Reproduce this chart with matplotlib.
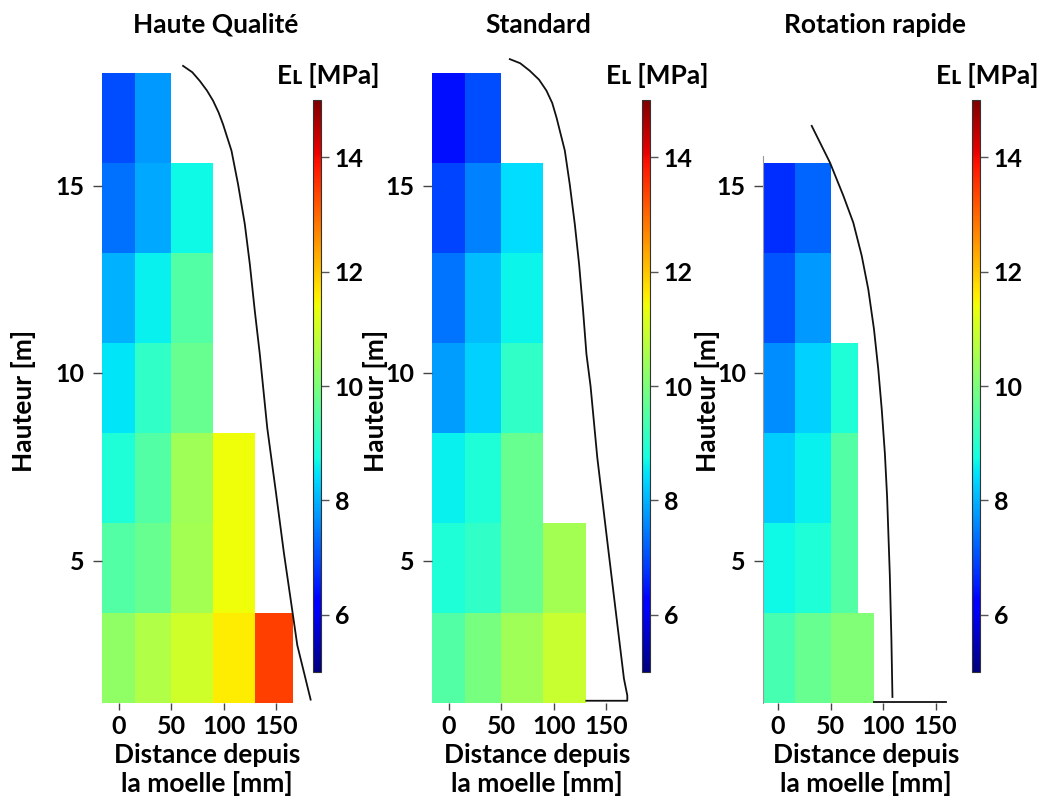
import matplotlib
matplotlib.use("Agg")
import matplotlib.pyplot as plt
import numpy as np
from matplotlib.colors import Normalize
from matplotlib.cm import ScalarMappable

plt.rcParams['font.family'] = ['Lato', 'DejaVu Sans']
plt.rcParams['font.weight'] = 'bold'

# ---------------- data ----------------
titles = ["Haute Qualité", "Standard", "Rotation rapide"]
row_edges_y = [1.2, 3.6, 6.0, 8.4, 10.8, 13.2, 15.6, 18.0]

# Haute Qualité: per row (bottom -> top) column edges [mm] and E_L values [MPa]
hq_x = [[-16, 15, 50, 90, 130, 166],
        [-16, 15, 50, 90, 130],
        [-16, 15, 50, 90, 130],
        [-16, 15, 50, 90],
        [-16, 15, 50, 90],
        [-16, 15, 50, 90],
        [-16, 15, 50]]
hq_v = [[10.25, 10.65, 11.0, 11.6, 13.4],
        [9.5, 9.75, 10.5, 11.4],
        [8.9, 9.5, 10.45, 11.4],
        [8.5, 9.1, 9.75],
        [8.0, 8.6, 9.5],
        [7.35, 7.9, 8.7],
        [7.0, 7.75]]

# Standard
st_x = [[-16, 15, 50, 90, 131],
        [-16, 15, 50, 90, 131],
        [-16, 15, 50, 90],
        [-16, 15, 50, 90],
        [-16, 15, 50, 90],
        [-16, 15, 50, 90],
        [-16, 15, 50]]
st_v = [[9.5, 9.95, 10.45, 10.9],
        [8.9, 9.1, 9.75, 10.5],
        [8.6, 8.9, 9.75],
        [7.8, 8.3, 9.1],
        [7.4, 8.1, 8.65],
        [6.95, 7.5, 8.43],
        [6.4, 7.0]]

# Rotation rapide
rr_x = [[-14, 16, 50, 91],
        [-14, 16, 50, 76],
        [-14, 16, 50, 76],
        [-14, 16, 50, 76],
        [-14, 16, 50],
        [-14, 16, 50]]
rr_v = [[9.35, 9.75, 10.05],
        [8.7, 8.9, 9.5],
        [8.25, 8.6, 9.5],
        [7.65, 8.3, 8.9],
        [7.1, 7.75],
        [6.7, 7.25]]

# stem profile curves (radius [mm], height [m])
hq_prof_r = [61.2, 70.0, 77.1, 84.0, 89.8, 95.0, 99.3, 107.3, 113.6, 120.0, 124.8, 129.5, 134.3,
             141.4, 149.5, 157.3, 164.0, 170.0, 176.5, 182.7]
hq_prof_h = [18.19, 18.02, 17.79, 17.53, 17.26, 16.95, 16.63, 15.93, 15.03, 13.97, 12.90, 11.66, 10.50,
             8.53, 6.85, 5.19, 3.90, 2.74, 2.00, 1.29]
st_prof_r = [58.1, 68.0, 77.1, 86.0, 93.0, 98.5, 102.6, 110.5, 115.2, 120.0, 124.1, 127.9, 131.1,
             135.0, 141.4, 151.0, 160.5, 166.8, 170.0, 170.0, 131.0]
st_prof_h = [18.37, 18.26, 18.06, 17.82, 17.53, 17.20, 16.81, 15.93, 15.03, 13.97, 12.90, 11.66, 10.50,
             9.65, 7.75, 5.50, 3.30, 1.85, 1.40, 1.26, 1.26]
rr_prof_r = [32.1, 49.5, 62.2, 71.7, 79.7, 86.0, 91.4, 95.5, 98.8, 101.8,
             103.9, 106.5, 108.0, 109.0]
rr_prof_h = [16.59, 15.61, 14.73, 14.01, 13.13, 12.23, 11.17, 10.10, 9.03, 7.85,
             6.70, 4.61, 2.90, 1.36]
rr_base_r = [91, 160]
rr_base_h = [1.22, 1.22]
rr_edge_r = [-14, -14]
rr_edge_h = [1.2, 15.8]

cbar_ticks = [6, 8, 10, 12, 14]
x_ticks = [0, 50, 100, 150]
y_ticks = [5, 10, 15]

# ---------------- layout ----------------
W, H = 1042, 800
fig = plt.figure(figsize=(W / 100, H / 100), dpi=100)

def px_axes(x0, y0, x1, y1):
    return fig.add_axes([x0 / W, 1 - y1 / H, (x1 - x0) / W, (y1 - y0) / H])

cmap = plt.get_cmap('jet')
norm = Normalize(5, 15)
ylim = (1.2, 18.5)
pxmm = 1.05
ytop = 703 - (ylim[1] - ylim[0]) * 37.5

LAB = 19
TICK = 18

panels = [
    dict(xs=hq_x, vs=hq_v, x0px=102, xlim=(-16, 184), cb=313, xlab=207,
         lines=[(hq_prof_r, hq_prof_h, '#111111', 1.3)]),
    dict(xs=st_x, vs=st_v, x0px=432, xlim=(-16, 172), cb=642, xlab=537,
         lines=[(st_prof_r, st_prof_h, '#111111', 1.3)]),
    dict(xs=rr_x, vs=rr_v, x0px=763.3, xlim=(-14, 162), cb=972, xlab=866,
         lines=[(rr_prof_r, rr_prof_h, '#111111', 1.3),
                (rr_base_r, rr_base_h, '#111111', 1.3),
                (rr_edge_r, rr_edge_h, '#999999', 0.8)]),
]

for i, p in enumerate(panels):
    x1px = p['x0px'] + (p['xlim'][1] - p['xlim'][0]) * pxmm
    ax = px_axes(p['x0px'], ytop, x1px, 703)
    for r, (xe, vals) in enumerate(zip(p['xs'], p['vs'])):
        ax.pcolormesh(xe, row_edges_y[r:r + 2], np.array([vals]), cmap=cmap, norm=norm,
                      edgecolor='none', antialiased=False)
    for (lx, ly, c, lw) in p['lines']:
        ax.plot(lx, ly, color=c, lw=lw, clip_on=False, solid_joinstyle='round')
    ax.set_xlim(*p['xlim'])
    ax.set_ylim(*ylim)
    for s in ax.spines.values():
        s.set_visible(False)
    ax.set_xticks(x_ticks)
    ax.set_yticks(y_ticks)
    ax.tick_params(axis='y', length=6.5, width=1, color='#444444', labelsize=TICK, pad=6)
    ax.tick_params(axis='x', length=5, width=1, color='#444444', labelsize=TICK, pad=4)
    for lab in ax.get_xticklabels() + ax.get_yticklabels():
        lab.set_fontweight('bold')
    # panel title
    fig.text([216, 538, 875][i] / W, 1 - 25 / H, titles[i], ha='center', va='center',
             fontsize=LAB, fontweight='bold')
    # axis titles
    cx = p['xlab']
    fig.text(cx / W, 1 - 755 / H, "Distance depuis", ha='center', va='center',
             fontsize=LAB, fontweight='bold')
    fig.text(cx / W, 1 - 783 / H, "la moelle [mm]", ha='center', va='center',
             fontsize=LAB, fontweight='bold')
    fig.text([24, 375, 707][i] / W, 1 - 401 / H, "Hauteur [m]", ha='center', va='center',
             rotation=90, fontsize=LAB, fontweight='bold')
    # colorbar
    cax = px_axes(p['cb'], 100, p['cb'] + 8, 672)
    cb = fig.colorbar(ScalarMappable(norm=norm, cmap=cmap), cax=cax, ticks=cbar_ticks)
    cb.outline.set_linewidth(0.8)
    cb.outline.set_edgecolor('#333333')
    cax.tick_params(length=6, width=1, color='#555555', labelsize=TICK, pad=4)
    for lab in cax.get_yticklabels():
        lab.set_fontweight('bold')
    fig.text((p['cb'] + 15) / W, 1 - 75 / H, "E\u029f [MPa]", ha='center', va='center',
             fontsize=LAB, fontweight='bold')

fig.savefig("out.png", dpi=100)
